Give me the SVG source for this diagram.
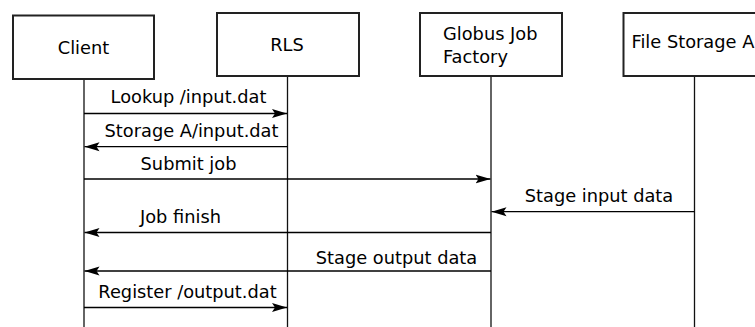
<svg xmlns="http://www.w3.org/2000/svg" width="755" height="327" viewBox="0 0 755 327">
<style>
.box{fill:#fff;stroke:#222;stroke-width:2}
.life{stroke:#111;stroke-width:1.3;fill:none}
.msg{stroke:#000;stroke-width:1.3;fill:none;marker-end:url(#ah)}
text{font-family:"DejaVu Sans",sans-serif;font-size:17.8px;fill:#000}
.c{text-anchor:middle}
</style>
<defs>
<marker id="ah" markerUnits="userSpaceOnUse" markerWidth="16" markerHeight="12" viewBox="0 0 16 12" refX="15" refY="6" orient="auto">
<path d="M0,1.5 L15,6 L0,10.5 L3,6 z" fill="#000"/>
</marker>
</defs>
<rect width="755" height="327" fill="#fff"/>
<g id="lifelines">
<line class="life" x1="84" y1="79" x2="84" y2="327"/>
<line class="life" x1="287.5" y1="76" x2="287.5" y2="327"/>
<line class="life" x1="491" y1="76" x2="491" y2="327"/>
<line class="life" x1="694.5" y1="76" x2="694.5" y2="327"/>
</g>
<g id="client"><rect class="box" x="13" y="15.5" width="141" height="63.5"/><text class="c" x="83.5" y="54">Client</text></g>
<g id="rls"><rect class="box" x="217" y="13" width="142" height="63"/><text class="c" x="287" y="51">RLS</text></g>
<g id="globus"><rect class="box" x="420" y="13" width="142" height="63"/><text x="443" y="39.5">Globus Job</text><text x="443" y="62.5">Factory</text></g>
<g id="storage"><rect class="box" x="623.5" y="13" width="142" height="63"/><text x="631.5" y="47.5">File Storage A</text></g>
<g id="connectors">
<line class="msg" x1="84" y1="113.5" x2="287" y2="113.5"/>
<text class="c" x="188.5" y="103">Lookup /input.dat</text>
<line class="msg" x1="287.5" y1="146.7" x2="84.5" y2="146.7"/>
<text class="c" x="191.5" y="137">Storage A/input.dat</text>
<line class="msg" x1="84" y1="179" x2="490.5" y2="179"/>
<text class="c" x="188.5" y="170">Submit job</text>
<line class="msg" x1="694.5" y1="211.7" x2="491.5" y2="211.7"/>
<text class="c" x="599" y="201.5">Stage input data</text>
<line class="msg" x1="491" y1="232.5" x2="84.5" y2="232.5"/>
<text class="c" x="180.5" y="222.5">Job finish</text>
<line class="msg" x1="491" y1="271" x2="84.5" y2="271"/>
<text class="c" x="396.5" y="264">Stage output data</text>
<line class="msg" x1="84" y1="307.5" x2="287" y2="307.5"/>
<text class="c" x="187.5" y="297.5">Register /output.dat</text>
</g>
</svg>
